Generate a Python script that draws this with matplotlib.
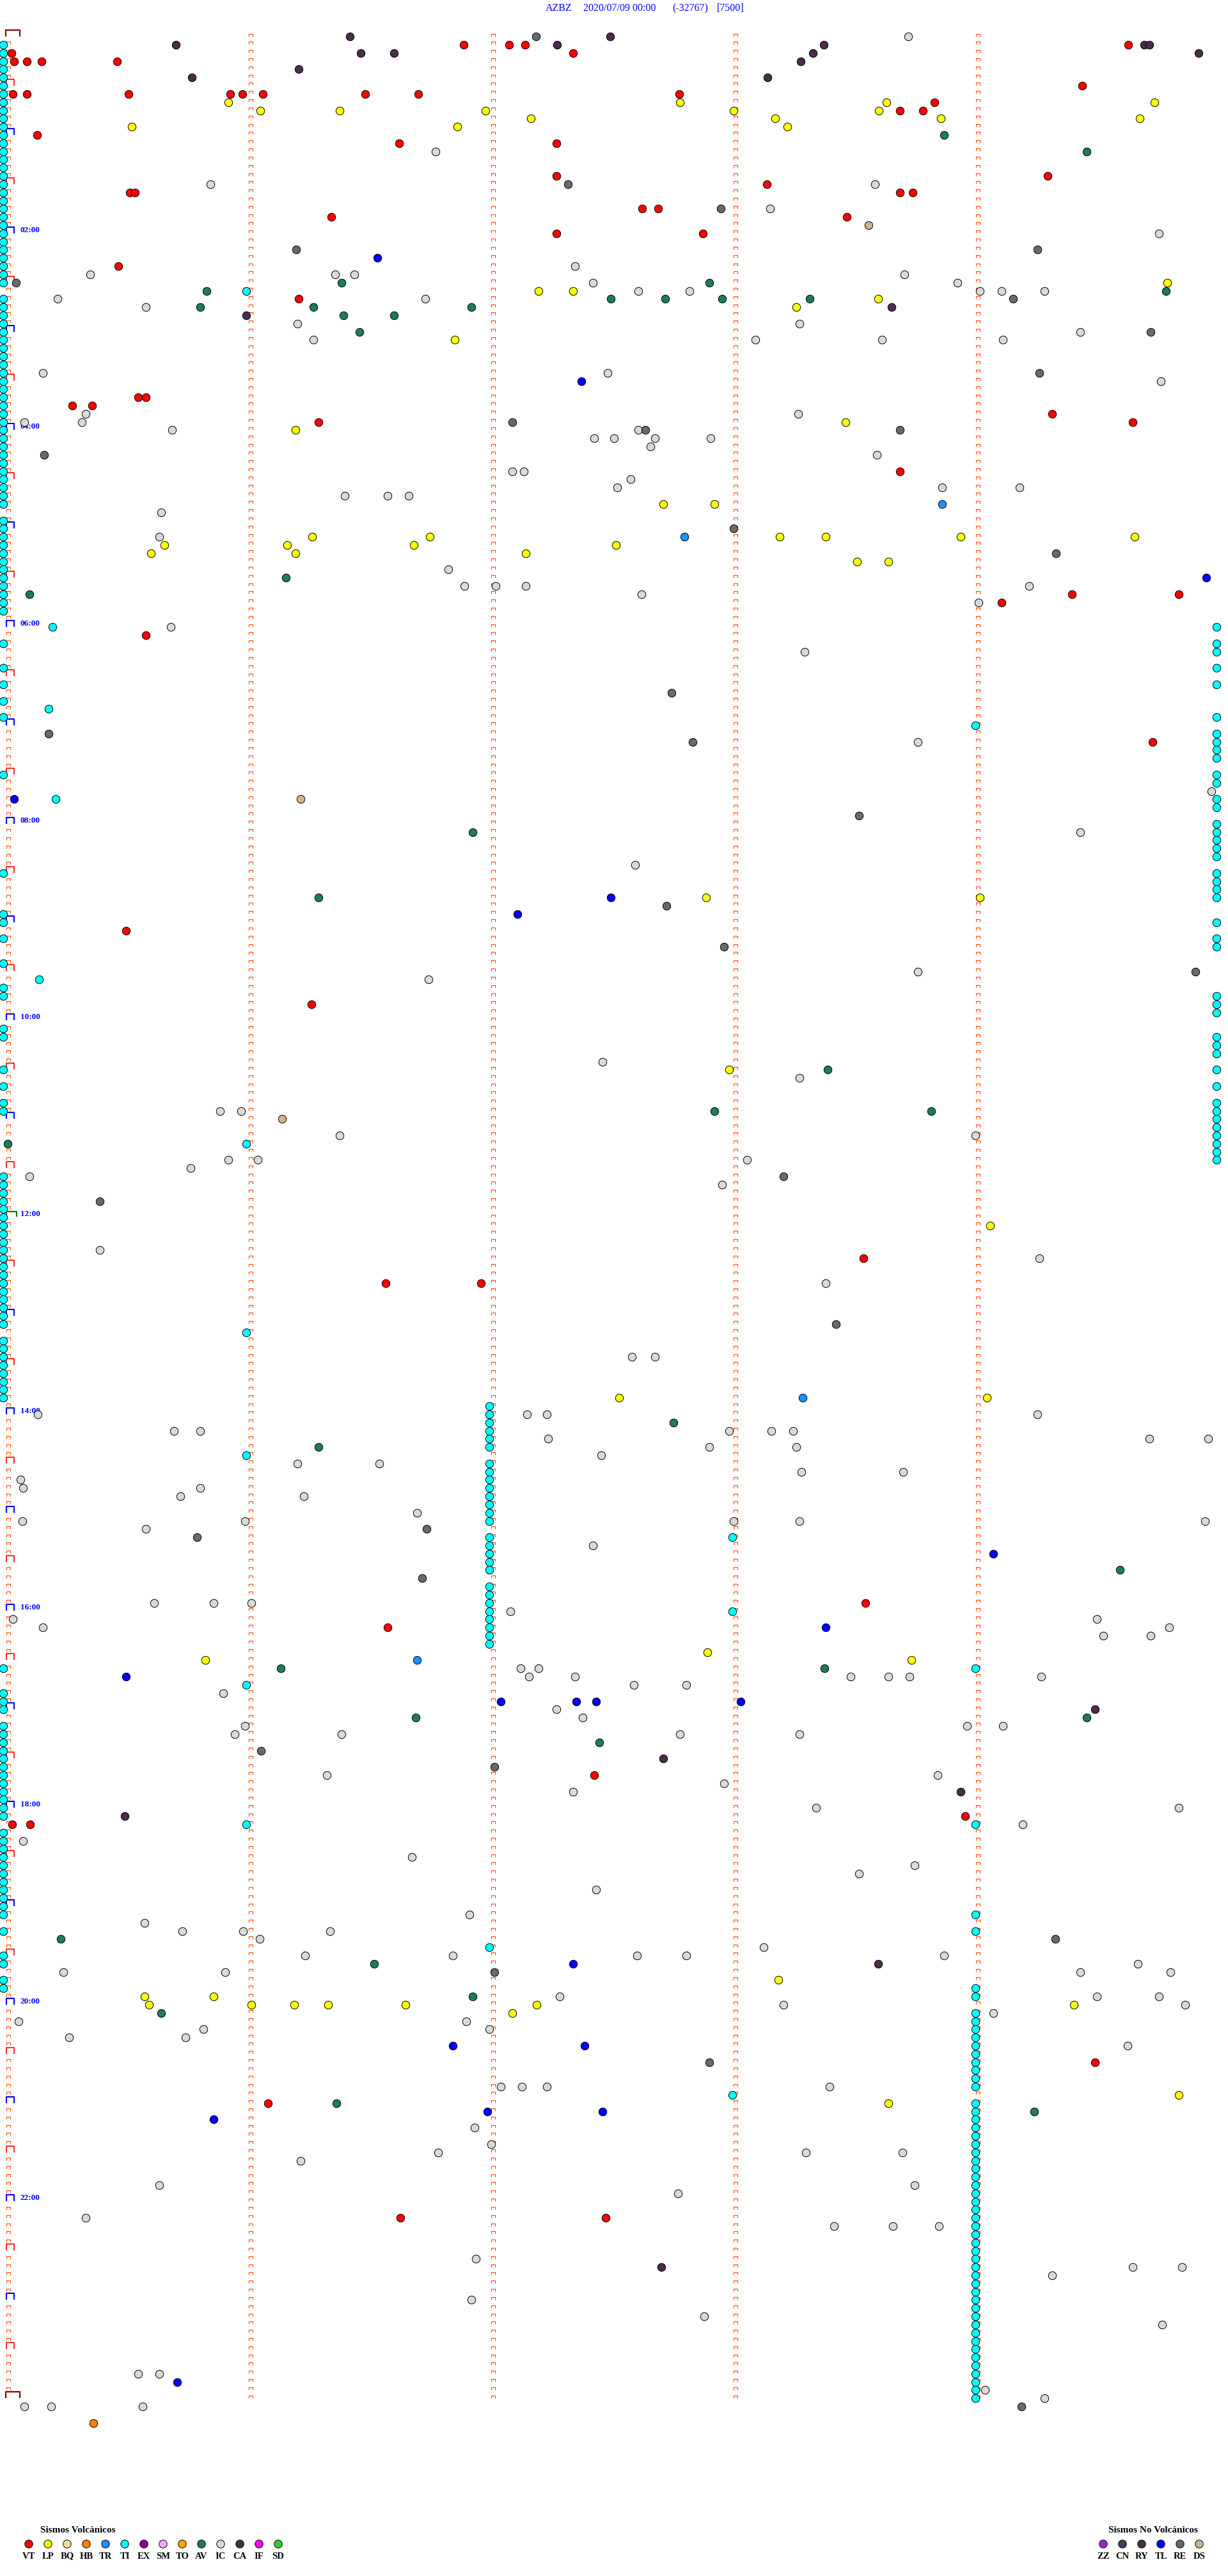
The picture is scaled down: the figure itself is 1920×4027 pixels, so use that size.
import numpy as np
import matplotlib.pyplot as plt
from matplotlib.path import Path

plt.rcParams['font.family'] = ['Liberation Serif', 'DejaVu Serif']

W, H = 1920, 4027
# frame of the drum plot: one row = 5 minutes, minute marks every 379 px
X0, PX_PER_SEC = 13.0, 379.0 / 60
Y0, PX_PER_ROW = 52.0, 12.82


def sx(px):
    return (px - X0) / PX_PER_SEC


def sy(py):
    return (py - Y0) / PX_PER_ROW


# events: (row = 5-minute slot of the day, seconds into the slot)
VT = [(1, 112.7), (1, 124.0), (1, 127.9), (1, 277.2), (2, 0.8), (2, 139.8),
      (3, 1.4), (3, 4.6), (3, 8.2), (3, 26.9), (6, 265.8),
      (7, 1.1), (7, 4.6), (7, 29.8), (7, 54.9), (7, 57.9), (7, 63.0), (7, 88.3),
      (7, 101.5), (7, 166.1), (8, 229.2), (9, 220.7), (9, 226.4), (12, 7.1),
      (13, 96.7), (13, 135.7), (17, 135.7), (17, 257.2), (18, 187.7),
      (19, 30.1), (19, 31.3), (19, 220.7), (19, 223.8), (21, 156.9), (21, 160.8),
      (22, 80.0), (22, 207.6), (24, 135.7), (24, 171.9), (28, 27.2), (32, 71.9),
      (44, 32.1), (44, 34.1), (45, 15.8), (45, 20.7), (46, 258.4), (47, 76.8),
      (47, 278.3), (53, 220.7), (68, 263.3), (68, 289.7), (69, 245.8), (73, 34.1),
      (86, 283.2), (109, 29.2), (118, 75.1), (149, 211.7), (152, 93.4), (152, 117.0),
      (191, 212.1), (194, 93.9), (212, 145.0), (217, 236.8), (218, 1.0), (218, 5.4),
      (247, 269.0), (252, 64.2), (266, 97.1), (266, 147.9)]

LP = [(8, 54.5), (8, 166.2), (8, 217.3), (8, 283.7), (9, 62.4), (9, 82.0), (9, 118.1),
      (9, 179.5), (9, 215.5), (10, 129.3), (10, 189.8), (10, 230.8), (10, 280.0),
      (11, 30.6), (11, 111.1), (11, 192.8), (30, 286.9), (31, 131.2), (31, 139.8),
      (32, 215.3), (33, 195.0), (37, 110.5), (47, 207.2), (48, 71.1), (57, 162.1),
      (57, 174.8), (61, 75.2), (61, 104.4), (61, 191.0), (61, 202.4), (61, 235.7),
      (61, 278.8), (62, 38.6), (62, 69.1), (62, 100.4), (62, 150.4), (63, 35.3),
      (63, 71.1), (63, 128.0), (64, 210.1), (64, 217.8), (105, 172.7), (105, 240.5),
      (126, 178.4), (145, 243.0), (166, 151.2), (166, 242.2), (197, 173.1),
      (198, 48.8), (198, 223.5), (237, 190.6), (239, 33.7), (239, 50.8), (240, 34.9),
      (240, 60.2), (240, 70.7), (240, 79.2), (240, 98.3), (240, 130.8), (240, 263.7),
      (241, 124.7), (251, 289.7), (252, 217.8)]

IC = [(0, 222.7), (14, 105.7), (18, 50.0), (18, 214.5), (21, 188.5), (24, 284.8),
      (28, 140.2), (29, 20.3), (29, 80.9), (29, 85.7), (29, 221.8), (30, 144.7),
      (30, 234.9), (31, 156.0), (31, 168.6), (31, 240.5), (31, 245.8), (31, 256.4),
      (32, 12.2), (32, 103.2), (33, 34.1), (35, 71.5), (35, 195.8), (36, 265.3),
      (37, 75.5), (37, 184.9), (37, 216.2), (37, 246.2), (41, 8.5), (41, 148.3),
      (42, 285.3), (46, 19.1), (46, 195.5), (47, 18.2), (47, 3.9), (48, 40.6),
      (48, 156.0), (49, 145.0), (49, 149.9), (49, 160.1), (50, 158.9), (49, 173.9),
      (51, 215.0), (53, 124.7), (53, 127.6), (54, 154.0), (55, 150.7), (55, 231.2),
      (55, 250.3), (56, 83.3), (56, 93.9), (56, 99.1), (58, 37.8), (61, 37.4),
      (65, 108.9), (67, 112.9), (67, 120.7), (67, 128.0), (67, 252.7), (68, 156.8),
      (69, 240.2), (72, 40.2), (75, 197.1), (86, 225.1), (92, 297.8), (97, 265.3),
      (101, 155.2), (114, 225.1), (115, 104.0), (125, 147.1), (127, 195.8),
      (131, 52.4), (131, 57.6), (134, 82.0), (134, 239.4), (137, 54.5), (137, 61.7),
      (137, 182.8), (138, 45.1), (139, 5.2), (140, 176.7), (148, 22.7), (149, 255.2),
      (152, 202.3), (161, 154.3), (161, 160.1), (168, 7.3), (168, 128.4),
      (168, 133.3), (168, 254.7), (170, 41.0), (170, 47.5), (170, 178.4),
      (170, 188.9), (170, 194.2), (171, 133.6), (171, 282.4), (171, 297.0),
      (172, 173.5), (172, 195.0), (173, 146.7), (174, 71.5), (174, 91.8),
      (175, 196.3), (175, 221.5), (176, 3.0), (177, 3.6), (177, 47.5), (178, 42.6),
      (178, 73.1), (180, 101.2), (181, 3.5), (181, 58.5), (181, 179.6), (181, 195.8),
      (181, 296.2), (182, 34.1), (184, 144.7), (191, 36.1), (191, 50.8), (191, 60.2),
      (192, 124.3), (193, 1.1), (193, 269.4), (194, 8.5), (194, 287.3), (195, 271.0),
      (195, 282.8), (199, 126.8), (199, 131.2), (200, 128.8), (200, 140.3),
      (200, 208.5), (200, 217.8), (200, 223.1), (200, 255.6), (201, 154.8),
      (201, 167.8), (202, 53.2), (204, 135.7), (205, 142.2), (206, 58.5),
      (206, 237.3), (206, 246.2), (207, 56.0), (207, 82.5), (207, 166.2),
      (207, 195.8), (212, 78.8), (212, 230.0), (213, 177.1), (214, 139.8),
      (216, 199.9), (216, 289.7), (218, 251.1), (220, 3.6), (222, 99.9), (223, 224.3),
      (224, 210.5), (226, 145.5), (229, 114.2), (230, 33.7), (231, 43.1), (231, 58.1),
      (231, 79.6), (232, 62.2), (233, 186.9), (234, 73.5), (234, 110.1), (234, 155.6),
      (234, 167.8), (234, 231.6), (235, 279.6), (236, 13.6), (236, 53.6),
      (236, 265.3), (236, 287.7), (239, 136.5), (239, 269.4), (239, 284.8),
      (240, 191.8), (240, 291.3), (241, 243.8), (242, 2.5), (242, 113.3), (243, 48.3),
      (243, 119.0), (244, 15.0), (244, 43.9), (245, 277.1), (250, 121.9),
      (250, 127.2), (250, 133.3), (250, 203.2), (255, 115.4), (257, 119.5),
      (258, 106.4), (258, 197.4), (258, 221.3), (259, 72.3), (262, 37.4),
      (262, 224.3), (263, 165.7), (266, 19.1), (267, 204.4), (267, 219.0),
      (267, 230.3), (271, 115.8), (272, 278.3), (272, 290.5), (273, 258.4),
      (276, 114.6), (278, 172.3), (279, 285.6), (285, 32.1), (285, 37.4),
      (287, 241.7), (288, 256.4), (289, 4.0), (289, 10.6), (289, 33.2)]

RE = [(0, 130.6), (18, 138.5), (21, 176.4), (26, 71.2), (26, 254.8), (30, 1.9),
      (32, 248.7), (36, 282.8), (41, 255.2), (47, 124.7), (48, 157.6), (48, 220.7),
      (51, 8.9), (60, 179.6), (63, 259.3), (80, 164.2), (85, 10.0), (86, 169.4),
      (95, 210.5), (106, 162.9), (111, 177.1), (114, 293.8), (139, 191.8),
      (142, 22.7), (157, 204.8), (182, 103.6), (183, 46.7), (188, 102.4),
      (209, 62.5), (211, 120.3), (232, 259.1), (236, 120.3), (247, 173.5),
      (289, 250.8)]

CA = [(0, 84.5), (0, 149.0), (1, 41.5), (1, 135.8), (1, 201.8), (1, 281.1),
      (1, 282.4), (2, 87.2), (2, 95.5), (2, 199.1), (2, 294.6), (3, 196.1),
      (4, 71.9), (5, 45.4), (5, 187.9), (33, 218.6), (34, 58.9), (204, 269.0),
      (210, 162.1), (214, 235.7), (217, 28.8), (235, 215.3), (272, 161.7)]

AV = [(12, 231.6), (14, 266.9), (30, 82.5), (30, 173.5), (31, 49.1), (31, 286.5),
      (32, 149.1), (32, 162.6), (32, 176.7), (32, 198.3), (33, 47.5), (33, 75.5),
      (33, 114.6), (34, 82.9), (34, 95.5), (36, 86.9), (66, 68.7), (68, 5.2),
      (97, 115.0), (105, 76.8), (126, 202.8), (131, 174.8), (131, 228.4),
      (135, -0.2), (169, 164.6), (172, 76.8), (187, 275.1), (199, 67.4),
      (199, 202.0), (205, 100.8), (205, 266.9), (208, 146.3), (232, 13.0),
      (235, 90.6), (239, 115.0), (241, 37.8), (252, 81.2), (253, 253.9)]

TL = [(27, 91.3), (42, 141.8), (66, 296.5), (93, 1.4), (105, 149.1), (107, 126.0),
      (185, 243.8), (194, 202.3), (200, 29.2), (203, 121.9), (203, 140.6),
      (203, 145.5), (203, 181.3), (235, 139.8), (245, 110.1), (245, 142.6),
      (253, 118.6), (253, 147.1), (254, 50.8), (286, 41.8)]

TR = [(57, 231.2), (61, 167.4), (166, 196.6), (198, 101.2)]
DS = [(23, 212.9), (93, 72.3), (132, 67.8)]
HB = [(291, 21.1)]

TI = [(72, 10.9), (82, 10.0), (93, 11.7), (115, 7.6)]
# TI events stacked in columns: (seconds, list of row runs)
TI_COLUMNS = [
    (-1.3, [(1, 30), (32, 57), (59, 70), (74, 74), (77, 77), (79, 79), (81, 81),
            (83, 83), (90, 90), (102, 102), (107, 108), (110, 110), (113, 113),
            (116, 117), (121, 122), (126, 126), (128, 128), (130, 131), (139, 157),
            (159, 166), (199, 199), (202, 204), (206, 217), (219, 229), (231, 231),
            (234, 235), (237, 238)]),
    (58.9, [(31, 31), (135, 135), (158, 158), (173, 173), (201, 201), (218, 218)]),
    (119.0, [(167, 172), (174, 181), (183, 187), (189, 196), (233, 233)]),
    (179.2, [(183, 183), (192, 192), (251, 251)]),
    (239.4, [(84, 84), (199, 199), (218, 218), (229, 229), (231, 231), (238, 239),
             (241, 250), (252, 288)]),
    (299.0, [(72, 72), (74, 75), (77, 77), (79, 79), (83, 83), (85, 88), (90, 91),
             (93, 94), (96, 100), (102, 105), (108, 108), (110, 111), (117, 119),
             (122, 124), (126, 126), (128, 128), (130, 137)]),
]

VOLC_CODES = ['VT', 'LP', 'BQ', 'HB', 'TR', 'TI', 'EX', 'SM', 'TO', 'AV', 'IC', 'CA', 'IF', 'SD']
VOLC_COLORS = ['#FF0000', '#FFFF00', '#F0DC9C', '#FF8000', '#1E90FF', '#00FFFF', '#8B008B',
               '#EEA8EE', '#FFA500', '#1E7B5E', '#D9D9D9', '#4B2D4B', '#FF00FF', '#32CD32']
NOVOLC_CODES = ['ZZ', 'CN', 'RY', 'TL', 'RE', 'DS']
NOVOLC_COLORS = ['#8A2BE2', '#4B3B5B', '#4B2D4B', '#0000FF', '#696969', '#D2B48C']

HOUR_LABELS = ['%02d:00' % h for h in range(2, 24, 2)]

colors = dict(zip(VOLC_CODES + NOVOLC_CODES, VOLC_COLORS + NOVOLC_COLORS))

fig = plt.figure(figsize=(W / 100, H / 100), dpi=100)
ax = fig.add_axes([0, 0, 1, 1])
ax.set_xlim(sx(0), sx(W))
ax.set_ylim(sy(H), sy(0))
ax.axis('off')

# row marks
tick = Path([(-1, -0.8), (-1, 0.8), (1, 0.8), (1, -0.8)],
            [Path.MOVETO, Path.LINETO, Path.LINETO, Path.LINETO])
big = Path([(-1, -0.9), (-1, 0.9), (1, 0.9), (1, -0.9)],
           [Path.MOVETO, Path.LINETO, Path.LINETO, Path.LINETO])
wide = Path([(-1, -0.45), (-1, 0.45), (1, 0.45), (1, -0.45)],
            [Path.MOVETO, Path.LINETO, Path.LINETO, Path.LINETO])

rows = np.arange(0, 289)
for m in [0, 60, 120, 180, 240]:
    r = rows if m else rows[rows % 6 != 0]
    ax.plot(np.full(len(r), m), r + 0.2, ls='none', marker=tick, ms=4.4,
            mfc='none', mec='#FF4500', mew=0.8, zorder=1)

hours = rows[rows % 6 == 0]
for k in hours:
    if k in (0, 288):
        ax.plot(sx(20), k, marker=wide, ms=16, mfc='none', mec='#8B0000', mew=1.6, zorder=1)
    elif k == 144:
        ax.plot(sx(18), k, marker=wide, ms=12, mfc='none', mec='#008000', mew=1.6, zorder=1)
    elif k % 12 == 0:
        ax.plot(sx(15.5), k, marker=big, ms=8, mfc='none', mec='#0000FF', mew=1.5, zorder=1)
    else:
        ax.plot(sx(15.5), k, marker=big, ms=8, mfc='none', mec='#FF0000', mew=1.2, zorder=1)

for i, lab in enumerate(HOUR_LABELS):
    ax.text(sx(32), 24 * (i + 1), lab, color='#0000FF', fontsize=9.5,
            fontweight='bold', va='center', ha='left', zorder=2)

# events
ti_sec, ti_row = [], []
for sec, runs in TI_COLUMNS:
    for a, b in runs:
        for r in range(a, b + 1):
            ti_sec.append(sec)
            ti_row.append(r)
ti_sec += [p[1] for p in TI]
ti_row += [p[0] for p in TI]
ax.scatter(ti_sec, np.array(ti_row) + 0.4, s=80, c=colors['TI'],
           edgecolors='black', linewidths=0.7, zorder=3)

for code, pts in [('IC', IC), ('RE', RE), ('CA', CA), ('AV', AV), ('TL', TL),
                  ('TR', TR), ('DS', DS), ('HB', HB), ('LP', LP), ('VT', VT)]:
    p = np.array(pts, dtype=float)
    ax.scatter(p[:, 1], p[:, 0] + 0.4, s=80, c=colors[code],
               edgecolors='black', linewidths=0.7, zorder=4)

# title
title_parts = [(853, 'AZBZ'), (912, '2020/07/09 00:00'), (1051, '(-32767)'), (1121, '[7500]')]
for px, txt in title_parts:
    fig.text(px / W, 1 - 13 / H, txt, color='#0000FF', fontsize=11.5, va='center', ha='left')

# legends
fig.text(63 / W, 1 - 3955 / H, 'Sismos Volcánicos', fontsize=11, fontweight='bold',
         va='center', ha='left')
fig.text(1733 / W, 1 - 3955 / H, 'Sismos No Volcánicos', fontsize=11, fontweight='bold',
         va='center', ha='left')
for x0, codes, cols in [(45, VOLC_CODES, VOLC_COLORS), (1725, NOVOLC_CODES, NOVOLC_COLORS)]:
    xs = np.array([sx(x0 + 30 * i) for i in range(len(codes))])
    ax.scatter(xs, np.full(len(xs), sy(3977)), s=80, c=cols, edgecolors='black',
               linewidths=0.7, zorder=4, clip_on=False)
    for x, c in zip(xs, codes):
        ax.text(x, sy(3996), c, fontsize=10.5, fontweight='bold', ha='center', va='center')

fig.savefig('out.png', dpi=100)
